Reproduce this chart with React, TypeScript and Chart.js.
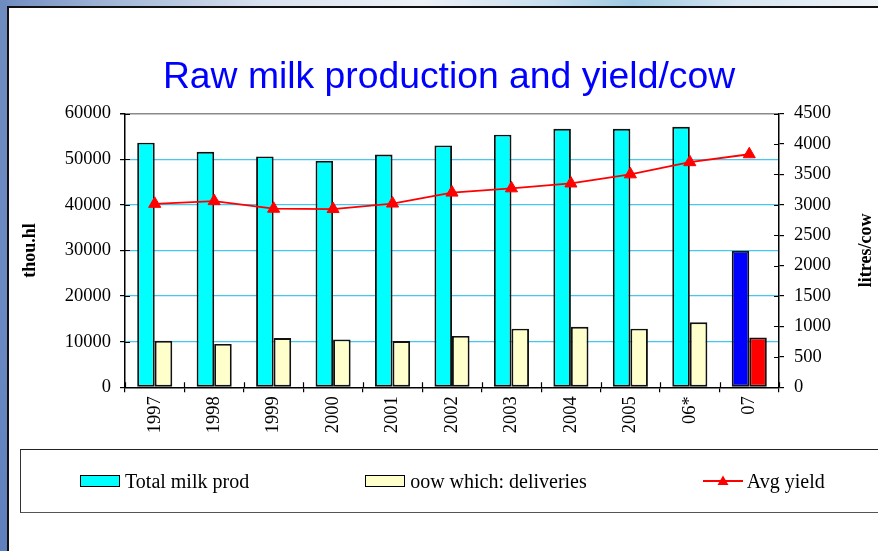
import React, { useEffect, useRef } from 'react';
import { Chart, registerables } from 'chart.js';

Chart.register(...registerables);

// ---------- data ----------
const categories = ['1997', '1998', '1999', '2000', '2001', '2002', '2003', '2004', '2005', '06*', '07'];
const totalMilkProd = [53600, 51600, 50600, 49600, 51000, 53000, 55350, 56650, 56650, 57100, 29900];
const deliveries = [10200, 9500, 10800, 10500, 10150, 11250, 12850, 13250, 12850, 14250, 10900];
const avgYield = [3015, 3060, 2935, 2930, 3020, 3200, 3270, 3350, 3500, 3700, 3830];
const seriesNames = ['Total milk prod', 'oow which: deliveries', 'Avg yield'];
const leftTicks = { min: 0, max: 60000, step: 10000 };
const rightTicks = { min: 0, max: 4500, step: 500 };
const titleText = 'Raw milk production and yield/cow';
const leftAxisTitle = 'thou.hl';
const rightAxisTitle = 'litres/cow';

// ---------- styles ----------
const SERIF = '"Liberation Serif", "Times New Roman", serif';
const SANS = '"Liberation Sans", Arial, sans-serif';
const CYAN = '#00FFFF';
const CREAM = '#FFFFCC';
const BLUE = '#0000FF';
const RED = '#FF0000';
const GRID = '#44C8F0';
const W = 878;
const H = 551;
const PLOT = { left: 125, right: 779, top: 113.5, bottom: 387.3 };
const PAD_LEFT = 20;
const X_AXIS_H = 60;
const TITLE_SIZE = 37.3;
const TITLE_PAD_TOP = 55.5;

const lastIdx = categories.length - 1;
const plainNumber = (v: any) => String(v);

const axisExtras = {
  id: 'axisExtras',
  afterDraw(chart: any) {
    const { ctx, chartArea, scales } = chart;
    ctx.save();
    ctx.strokeStyle = '#000';
    ctx.lineWidth = 1.2;
    ctx.beginPath();
    scales.y.ticks.forEach((t: any) => {
      const py = Math.round(scales.y.getPixelForValue(t.value)) + 0.5;
      ctx.moveTo(chartArea.left, py);
      ctx.lineTo(chartArea.left + 5, py);
    });
    scales.y1.ticks.forEach((t: any) => {
      const py = Math.round(scales.y1.getPixelForValue(t.value)) + 0.5;
      ctx.moveTo(chartArea.right - 5, py);
      ctx.lineTo(chartArea.right, py);
    });
    for (let i = 0; i <= categories.length; i++) {
      const px = Math.round(scales.x.getPixelForValue(i - 0.5)) + 0.5;
      ctx.moveTo(px, chartArea.bottom - 5);
      ctx.lineTo(px, chartArea.bottom);
    }
    ctx.stroke();
    ctx.translate(chartArea.right + 87, (chartArea.top + chartArea.bottom) / 2);
    ctx.rotate(-Math.PI / 2);
    ctx.font = `bold 18px ${SERIF}`;
    ctx.textAlign = 'center';
    ctx.textBaseline = 'middle';
    ctx.fillStyle = '#000';
    ctx.fillText(rightAxisTitle, 0, 0);
    ctx.restore();
  },
};

function ChartCanvas() {
  const ref = useRef<HTMLCanvasElement | null>(null);
  useEffect(() => {
    if (!ref.current) return;
    Chart.defaults.font.family = SERIF;
    const tickFont = { family: SERIF, size: 18.5 };
    const chart = new Chart(ref.current, {
      type: 'bar',
      data: {
        labels: categories,
        datasets: [
          {
            type: 'line',
            label: seriesNames[2],
            data: avgYield,
            yAxisID: 'y1',
            borderColor: RED,
            backgroundColor: RED,
            borderWidth: 1.8,
            pointStyle: 'triangle',
            pointRadius: 7,
            pointBackgroundColor: RED,
            pointBorderColor: RED,
            pointBorderWidth: 1,
            tension: 0,
            order: 0,
          } as any,
          {
            label: seriesNames[0],
            data: totalMilkProd,
            yAxisID: 'y',
            backgroundColor: (c: any) => (c.dataIndex === lastIdx ? BLUE : CYAN),
            borderColor: '#111',
            borderWidth: 1.9,
            borderSkipped: false,
            categoryPercentage: 0.59,
            barPercentage: 1,
            order: 1,
          },
          {
            label: seriesNames[1],
            data: deliveries,
            yAxisID: 'y',
            backgroundColor: (c: any) => (c.dataIndex === lastIdx ? RED : CREAM),
            borderColor: '#111',
            borderWidth: 1.9,
            borderSkipped: false,
            categoryPercentage: 0.59,
            barPercentage: 1,
            order: 2,
          },
        ],
      },
      options: {
        responsive: false,
        animation: false,
        layout: {
          padding: { left: PAD_LEFT, right: 0, top: 0, bottom: H - PLOT.bottom - X_AXIS_H },
        },
        plugins: {
          legend: { display: false },
          tooltip: { enabled: false },
          title: {
            display: true,
            text: titleText,
            color: BLUE,
            font: { family: SANS, size: TITLE_SIZE, weight: 'normal', lineHeight: 1.2 },
            padding: {
              top: TITLE_PAD_TOP,
              bottom: PLOT.top - TITLE_PAD_TOP - TITLE_SIZE * 1.2,
            },
          },
        },
        scales: {
          x: {
            offset: true,
            grid: {
              display: true,
              offset: true,
              drawOnChartArea: false,
              drawTicks: true,
              tickLength: 5,
              tickColor: '#000',
              lineWidth: 1.2,
            },
            border: { display: true, color: '#000', width: 1.5 },
            ticks: {
              autoSkip: false,
              maxRotation: 90,
              minRotation: 90,
              padding: 4,
              color: '#000',
              font: tickFont,
            },
            afterFit: (s: any) => {
              s.height = X_AXIS_H;
            },
          },
          y: {
            position: 'left',
            min: leftTicks.min,
            max: leftTicks.max,
            ticks: {
              stepSize: leftTicks.step,
              padding: 9,
              color: '#000',
              font: tickFont,
              callback: plainNumber,
            },
            grid: {
              color: (c: any) =>
                c.tick && c.tick.value === leftTicks.max
                  ? '#8a8a8a'
                  : c.tick && c.tick.value === leftTicks.min
                  ? 'rgba(0,0,0,0)'
                  : GRID,
              lineWidth: (c: any) => (c.tick && c.tick.value === leftTicks.max ? 1.5 : 1.2),
              tickColor: '#000',
              tickLength: 5,
            },
            border: { display: true, color: '#000', width: 1.5 },
            title: {
              display: true,
              text: leftAxisTitle,
              color: '#000',
              font: { family: SERIF, size: 18, weight: 'bold' },
              padding: 0,
            },
            afterFit: (s: any) => {
              s.width = PLOT.left - PAD_LEFT;
            },
          },
          y1: {
            position: 'right',
            min: rightTicks.min,
            max: rightTicks.max,
            ticks: {
              stepSize: rightTicks.step,
              padding: 10,
              color: '#000',
              font: tickFont,
              callback: plainNumber,
            },
            grid: { drawOnChartArea: false, tickColor: '#000', tickLength: 5, lineWidth: 1.2 },
            border: { display: true, color: '#000', width: 1.5 },
            afterFit: (s: any) => {
              s.width = W - PLOT.right;
            },
          },
        },
      } as any,
      plugins: [axisExtras],
    });
    return () => chart.destroy();
  }, []);
  return (
    <canvas
      ref={ref}
      width={W}
      height={H}
      style={{ position: 'absolute', left: 0, top: 0, width: W, height: H }}
    />
  );
}

function LegendSwatch({ fill }: { fill: string }) {
  return (
    <span
      style={{
        display: 'inline-block',
        width: 40,
        height: 12,
        boxSizing: 'border-box',
        border: '1.8px solid #000',
        background: fill,
        marginRight: 5,
      }}
    />
  );
}

function LegendLine() {
  return (
    <svg width={40} height={14} style={{ marginRight: 4, display: 'inline-block' }}>
      <line x1={0} y1={7} x2={40} y2={7} stroke={RED} strokeWidth={1.8} />
      <polygon points="20,1.5 25.5,11 14.5,11" fill={RED} />
    </svg>
  );
}

export default function App() {
  const legendItems = [
    { name: seriesNames[0], el: <LegendSwatch fill={CYAN} /> },
    { name: seriesNames[1], el: <LegendSwatch fill={CREAM} /> },
    { name: seriesNames[2], el: <LegendLine /> },
  ];
  return (
    <div
      style={{
        position: 'fixed',
        left: 0,
        top: 0,
        width: W,
        height: H,
        background: '#fff',
        overflow: 'hidden',
      }}
    >
      <div
        style={{
          position: 'absolute',
          left: 0,
          top: 0,
          width: W,
          height: 6,
          background:
            'linear-gradient(to right, #6f8cc0 0%, #9fb4d6 12%, #d9e2ef 30%, #eef2f7 48%, #c9dfee 62%, #9fc9e2 72%, #d7e6f1 84%, #eef3f7 100%)',
        }}
      />
      <div
        style={{
          position: 'absolute',
          left: 0,
          top: 0,
          width: 7,
          height: H,
          background: 'linear-gradient(to bottom, #6f8cc0, #6a89c2 60%, #5f80bd)',
        }}
      />
      <div style={{ position: 'absolute', left: 7, top: 6, width: W, height: 1.5, background: '#111' }} />
      <div style={{ position: 'absolute', left: 7, top: 6, width: 1.5, height: H, background: '#111' }} />
      <ChartCanvas />
      <div
        style={{
          position: 'absolute',
          left: 20,
          top: 449,
          width: 880,
          height: 64,
          boxSizing: 'border-box',
          borderTop: '1.5px solid #222',
          borderBottom: '1.5px solid #555',
          borderLeft: '1.5px solid #333',
          display: 'flex',
          alignItems: 'center',
          paddingLeft: 59,
          gap: 116,
          fontFamily: SERIF,
          fontSize: 20,
          color: '#000',
          whiteSpace: 'nowrap',
        }}
      >
        {legendItems.map((it) => (
          <div key={it.name} style={{ display: 'flex', alignItems: 'center' }}>
            {it.el}
            <span>{it.name}</span>
          </div>
        ))}
      </div>
    </div>
  );
}
